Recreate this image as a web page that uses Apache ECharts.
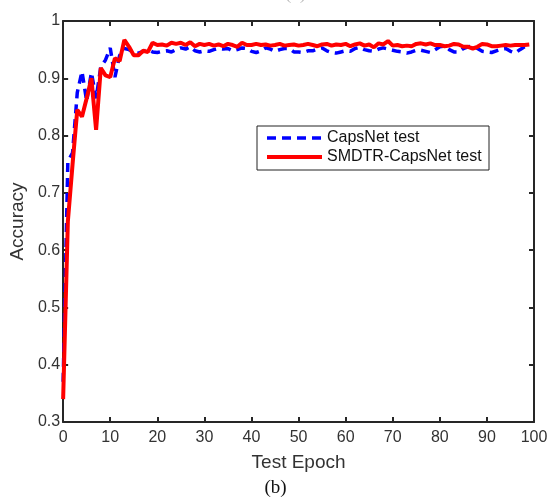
<!DOCTYPE html>
<html>
<head>
<meta charset="utf-8">
<script src="https://cdn.jsdelivr.net/npm/echarts@6/dist/echarts.min.js"></script>
<style>html,body{margin:0;padding:0;background:#fff;}#c{width:551px;height:502px;}</style>
</head>
<body>
<div id="c"></div>
<script>
var seriesNames = ['CapsNet test', 'SMDTR-CapsNet test'];
var xTicks = [0, 10, 20, 30, 40, 50, 60, 70, 80, 90, 100];
var yTicks = [0.3, 0.4, 0.5, 0.6, 0.7, 0.8, 0.9, 1];
var capsNet = [
0.37,0.755,0.77,0.875,0.912,0.86,0.91,0.865,0.92,0.932,
0.953,0.902,0.94,0.952,0.95,0.945,0.944,0.947,0.95,0.946,
0.945,0.947,0.948,0.946,0.95,0.953,0.951,0.955,0.948,0.946,
0.948,0.947,0.95,0.952,0.951,0.952,0.948,0.95,0.953,0.952,
0.947,0.945,0.948,0.953,0.951,0.947,0.95,0.952,0.952,0.946,
0.946,0.945,0.948,0.948,0.951,0.953,0.948,0.945,0.944,0.946,
0.948,0.947,0.952,0.954,0.95,0.948,0.947,0.951,0.953,0.951,
0.949,0.947,0.946,0.944,0.946,0.949,0.949,0.947,0.945,0.95,
0.955,0.956,0.95,0.946,0.946,0.952,0.955,0.956,0.952,0.947,
0.946,0.945,0.948,0.951,0.952,0.947,0.944,0.95,0.955,0.956
];
var smdtr = [
0.34,0.65,0.75,0.845,0.833,0.865,0.90,0.81,0.918,0.905,
0.902,0.935,0.93,0.967,0.955,0.94,0.94,0.948,0.946,0.962,
0.958,0.959,0.957,0.962,0.96,0.962,0.958,0.963,0.956,0.96,
0.958,0.96,0.957,0.959,0.956,0.96,0.958,0.955,0.962,0.958,
0.958,0.96,0.958,0.959,0.957,0.958,0.96,0.957,0.958,0.959,
0.957,0.958,0.96,0.958,0.956,0.959,0.96,0.957,0.959,0.958,
0.96,0.956,0.959,0.961,0.957,0.959,0.954,0.961,0.959,0.965,
0.957,0.958,0.956,0.957,0.956,0.96,0.961,0.959,0.961,0.958,
0.958,0.956,0.957,0.96,0.959,0.955,0.955,0.952,0.955,0.96,
0.959,0.956,0.956,0.957,0.958,0.957,0.958,0.958,0.958,0.959
];

function pairs(arr){ return arr.map(function(v,i){ return [i, v]; }); }

var axisColor = '#262626';
var labelColor = '#333333';
var font = '"Liberation Sans", Arial, sans-serif';
var blue = '#0000ff', red = '#ff0000';

var chart = echarts.init(document.getElementById('c'), null, {renderer:'canvas'});
var xBase = {
  type:'value', min:xTicks[0], max:xTicks[xTicks.length-1], interval:10,
  axisLine:{show:true, onZero:false, lineStyle:{color:axisColor, width:2}},
  axisTick:{show:true, inside:true, length:5, lineStyle:{color:axisColor, width:2}},
  splitLine:{show:false}
};
var yBase = {
  type:'value', min:yTicks[0], max:yTicks[yTicks.length-1], interval:0.1,
  axisLine:{show:true, onZero:false, lineStyle:{color:axisColor, width:2}},
  axisTick:{show:true, inside:true, length:5, lineStyle:{color:axisColor, width:2}},
  splitLine:{show:false}
};
chart.setOption({
  animation:false,
  backgroundColor:'#ffffff',
  grid:{left:61, right:17, top:21, bottom:80, containLabel:false},
  graphic:[
    {type:'text', left:'center', top:479, style:{text:'(b)', font:'19px "Liberation Serif", "Times New Roman", serif', fill:'#111'}},
    {type:'text', left:285, top:-15, style:{text:'(a)', font:'19px "Liberation Serif", serif', fill:'#bbb'}},
    {type:'group', z:100, children:[
      {type:'rect', shape:{x:257, y:126, width:232, height:44}, style:{fill:'#fff', stroke:'#222', lineWidth:1}},
      {type:'line', shape:{x1:267, y1:138, x2:322, y2:138}, style:{stroke:blue, lineWidth:3.5, lineDash:[9,6]}},
      {type:'line', shape:{x1:267, y1:157, x2:322, y2:157}, style:{stroke:red, lineWidth:4}},
      {type:'text', x:327, y:138, style:{text:seriesNames[0], font:'16px ' + font, fill:'#111', verticalAlign:'middle'}},
      {type:'text', x:327, y:157, style:{text:seriesNames[1], font:'16px ' + font, fill:'#111', verticalAlign:'middle'}}
    ]}
  ],
  xAxis:[
    Object.assign({}, xBase, {position:'bottom',
      name:'Test Epoch', nameLocation:'middle', nameGap:31,
      nameTextStyle:{fontFamily:font, fontSize:19, color:labelColor},
      axisLabel:{show:true, margin:8, fontFamily:font, fontSize:16, color:labelColor}}),
    Object.assign({}, xBase, {position:'top', axisLabel:{show:false}})
  ],
  yAxis:[
    Object.assign({}, yBase, {position:'left',
      name:'Accuracy', nameLocation:'middle', nameGap:33,
      nameTextStyle:{fontFamily:font, fontSize:19, color:labelColor},
      axisLabel:{show:true, margin:3, fontFamily:font, fontSize:16, color:labelColor,
        formatter:function(v){ return Math.abs(v-1)<1e-9 ? '1' : v.toFixed(1); }}}),
    Object.assign({}, yBase, {position:'right', axisLabel:{show:false}})
  ],
  series:[
    {name:seriesNames[0], type:'line', data:pairs(capsNet), xAxisIndex:0, yAxisIndex:0,
     showSymbol:false, symbol:'none', z:2,
     lineStyle:{color:blue, width:3.5, type:[9,6]}, itemStyle:{color:blue}},
    {name:seriesNames[1], type:'line', data:pairs(smdtr), xAxisIndex:0, yAxisIndex:0,
     showSymbol:false, symbol:'none', z:3,
     lineStyle:{color:red, width:4}, itemStyle:{color:red}}
  ]
});
</script>
</body>
</html>
